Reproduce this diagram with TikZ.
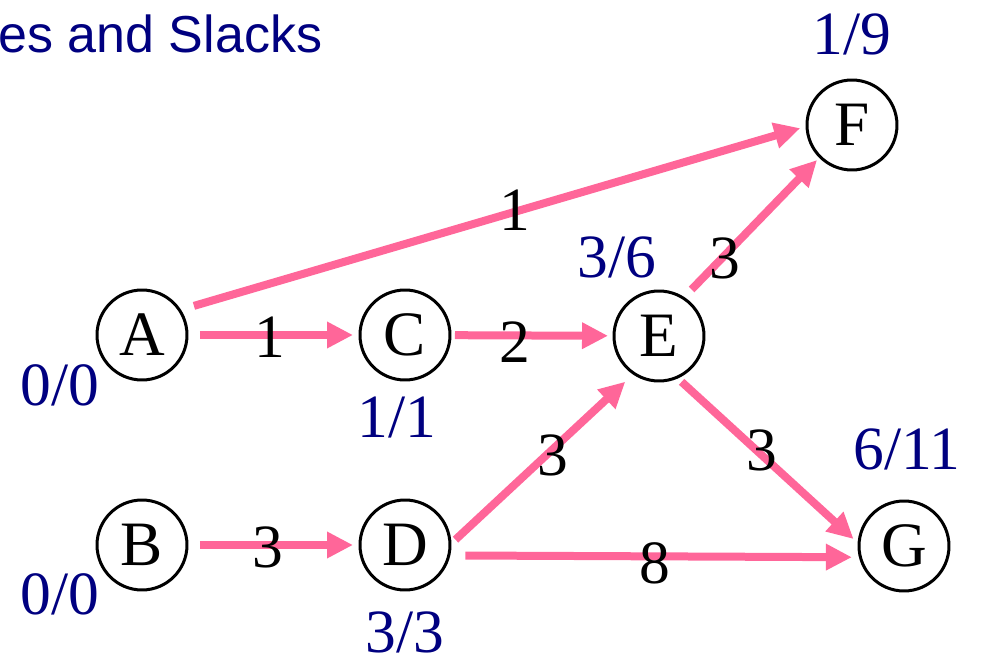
\documentclass[tikz,border=0pt]{standalone}
\usepackage{fontspec}
\setmainfont{Liberation Serif}
\newfontfamily\titlefont{Liberation Sans}
\usetikzlibrary{arrows.meta}
\definecolor{EdgePink}{RGB}{255,102,153}
\definecolor{SlackNavy}{RGB}{0,0,128}

\begin{document}
\begin{tikzpicture}[x=0.02cm, y=-0.02cm,
          event/.style={draw, circle, line width=0.06cm, minimum size=1.8cm,
                        inner sep=0pt, font=\fontsize{36}{42}\selectfont},
          act/.style={color=EdgePink, line width=0.16cm,
                      -{Triangle[length=0.52cm, width=0.5cm]}},
          wt/.style={font=\fontsize{35}{41}\selectfont, inner sep=0pt},
          es/.style={font=\fontsize{35}{41}\selectfont, text=SlackNavy, inner sep=0pt}
        ]
        \useasboundingbox (0,0) rectangle (985,666);

        \node[anchor=base west, inner sep=0pt, text=SlackNavy,
              font=\titlefont\fontsize{29.6}{34}\selectfont] (title) at (-2,52) {es and Slacks};

        \node[event] (A) at (142,335) {A};
        \node[event] (B) at (142,545) {B};
        \node[event] (C) at (405,335) {C};
        \node[event] (D) at (405,545) {D};
        \node[event] (E) at (659,336) {E};
        \node[event] (F) at (852,125) {F};
        \node[event] (G) at (904,546) {G};

        \draw[act, shorten <=0.23cm, shorten >=0.11cm] (A) -- (C);
        \draw[act, shorten <=0.07cm, shorten >=0.09cm] (C) -- (E);
        \draw[act, shorten <=0.23cm, shorten >=0.11cm] (B) -- (D);
        \draw[act, shorten <=0.27cm, shorten >=0.11cm] (A.33) -- (F.182);
        \draw[act, shorten <=0.21cm, shorten >=0.06cm] (E.57) -- (F.225);
        \draw[act, shorten <=0.11cm, shorten >=0.21cm] (D.2) -- (E.236);
        \draw[act, shorten <=0.10cm, shorten >=0.11cm] (E.294) -- (G.176);
        \draw[act, shorten <=0.30cm, shorten >=0.14cm] (D.347) -- (G.194);

        % durations
        \node[wt] (wAC) at (270,337) {1};
        \node[wt] (wCE) at (515,342) {2};
        \node[wt] (wAF) at (515,210) {1};
        \node[wt] (wEF) at (725,258) {3};
        \node[wt] (wDE) at (553,455) {3};
        \node[wt] (wEG) at (762,450) {3};
        \node[wt] (wBD) at (268,547) {3};
        \node[wt] (wDG) at (655,563) {8};

        % early start / slack
        \node[es] (tA) at (60,385)  {0/0};
        \node[es] (tB) at (60,594)  {0/0};
        \node[es] (tC) at (397,417) {1/1};
        \node[es] (tD) at (405,632) {3/3};
        \node[es] (tE) at (617,257) {3/6};
        \node[es] (tF) at (852,34)  {1/9};
        \node[es] (tG) at (907,449) {6/11};
      \end{tikzpicture}
\end{document}
